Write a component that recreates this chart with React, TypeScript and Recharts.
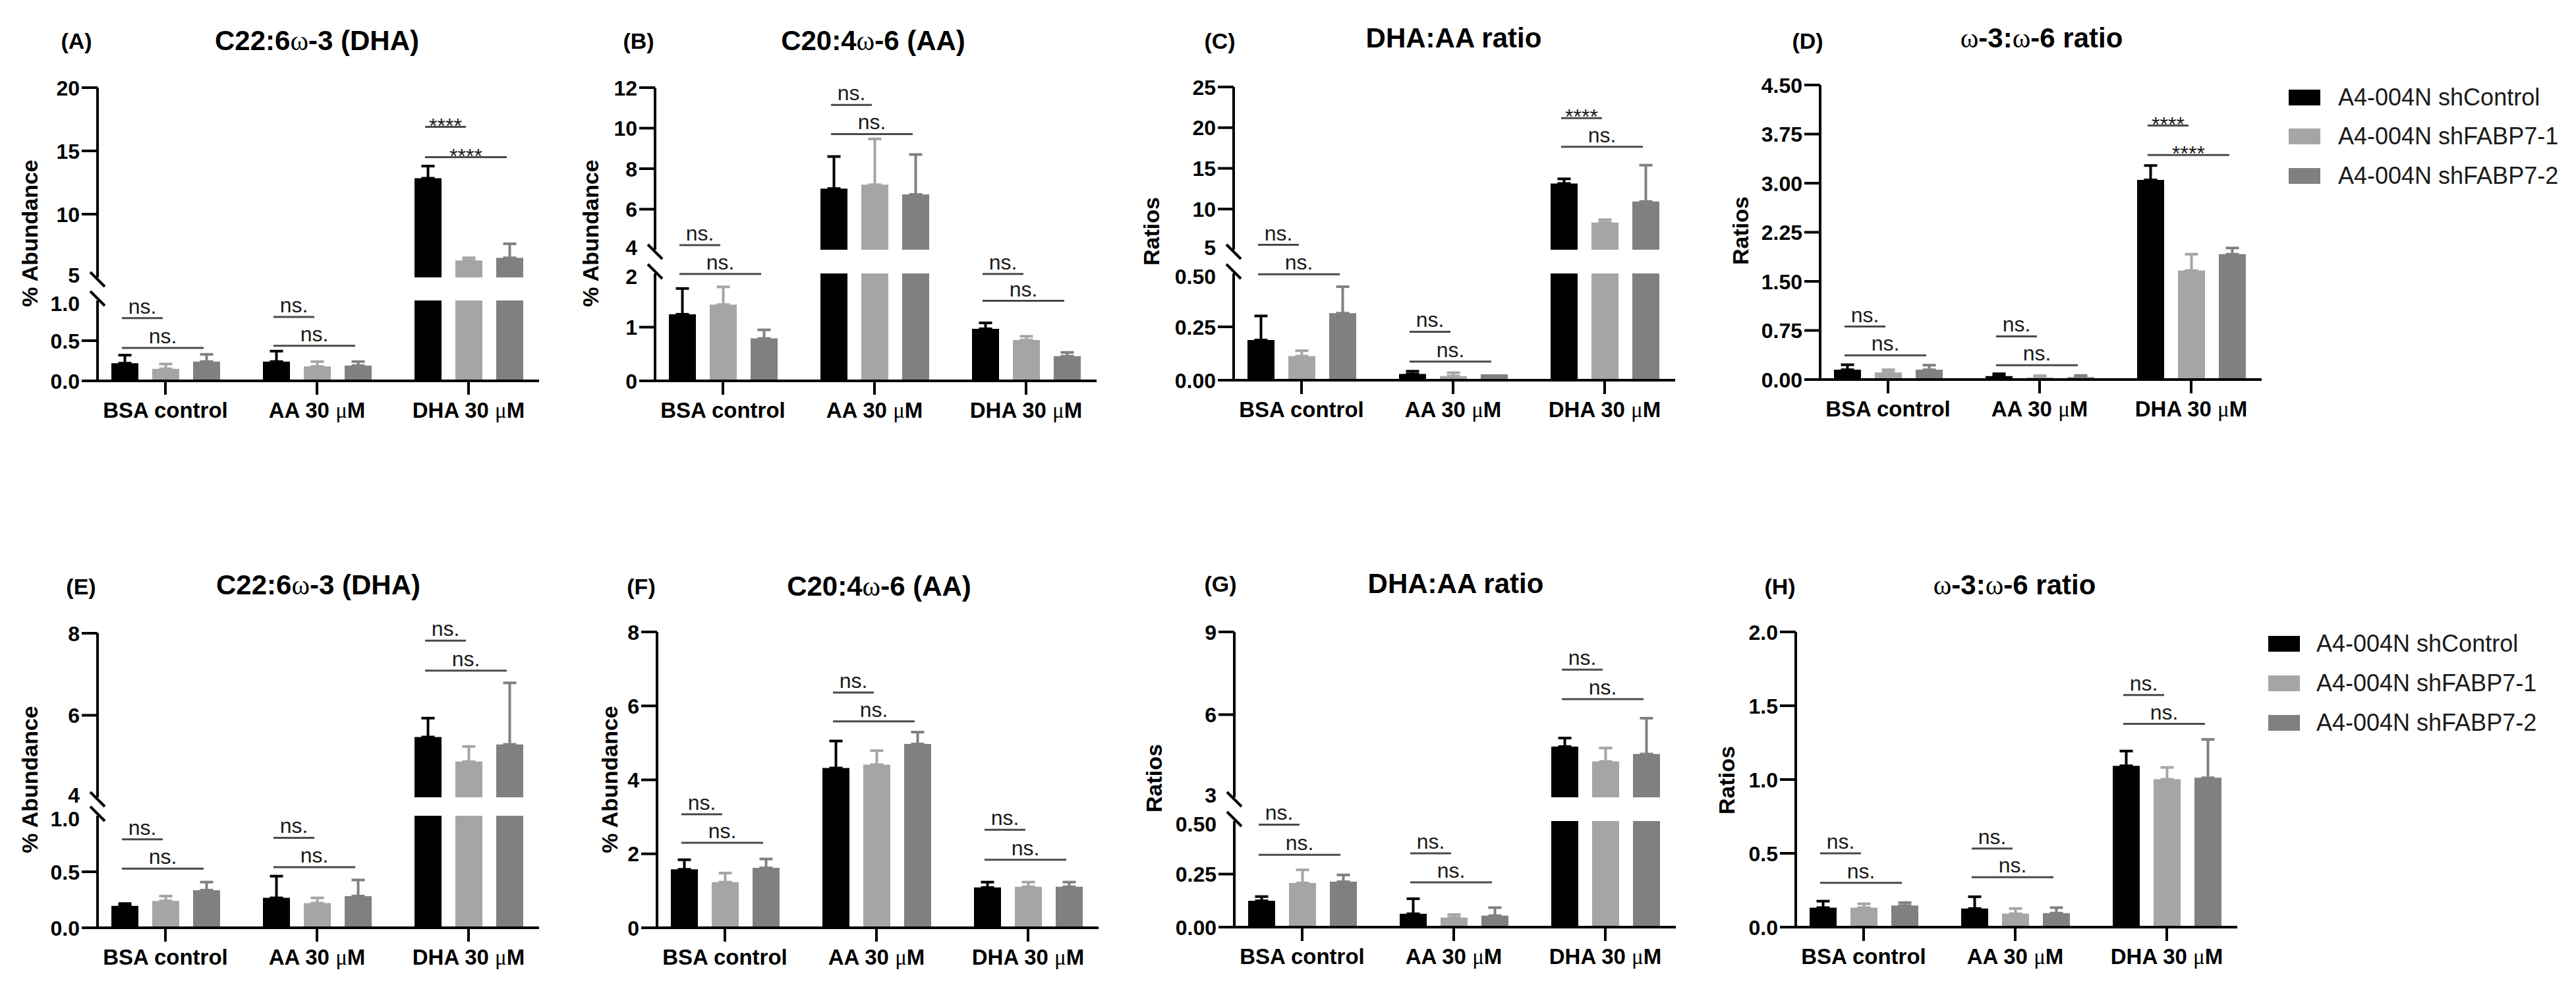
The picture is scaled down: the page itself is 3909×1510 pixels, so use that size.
import React from 'react';
import { BarChart, Bar, XAxis, YAxis, ErrorBar, ReferenceLine } from 'recharts';

// ---------- shared data ----------
const categories = ['BSA control', 'AA 30 μM', 'DHA 30 μM'];
const seriesNames = ['A4-004N shControl', 'A4-004N shFABP7-1', 'A4-004N shFABP7-2'];
const seriesColors = ['#000000', '#a5a5a8', '#808080'];

// ---------- Panel A : C22:6w-3 (DHA), % abundance ----------
const aShControl = [0.22, 0.24, 12.84];
const aShFABP7_1 = [0.15, 0.18, 6.34];
const aShFABP7_2 = [0.24, 0.19, 6.55];
const aShControlSd = [0.1, 0.13, 0.96];
const aShFABP7_1Sd = [0.06, 0.06, 0.21];
const aShFABP7_2Sd = [0.09, 0.05, 1.11];
const aSigNearY = [0.78, 0.795, 16.9];
const aSigFarY = [0.41, 0.437, 14.5];
const aSigNear = ['ns.', 'ns.', '****'];
const aSigFar = ['ns.', 'ns.', '****'];
const aTicksUpper = [5, 10, 15, 20];
const aTicksLower = [0, 0.5, 1];

// ---------- Panel B : C20:4w-6 (AA), % abundance ----------
const bShControl = [1.24, 7.02, 0.97];
const bShFABP7_1 = [1.42, 7.21, 0.76];
const bShFABP7_2 = [0.79, 6.73, 0.46];
const bShControlSd = [0.48, 1.58, 0.11];
const bShFABP7_1Sd = [0.33, 2.26, 0.07];
const bShFABP7_2Sd = [0.16, 1.97, 0.07];
const bSigNearY = [4.23, 11.15, 1.99];
const bSigFarY = [1.99, 9.71, 1.49];
const bSigNear = ['ns.', 'ns.', 'ns.'];
const bSigFar = ['ns.', 'ns.', 'ns.'];
const bTicksUpper = [4, 6, 8, 10, 12];
const bTicksLower = [0, 1, 2];

// ---------- Panel C : DHA:AA ratio ----------
const cShControl = [0.188, 0.029, 13.14];
const cShFABP7_1 = [0.113, 0.019, 8.35];
const cShFABP7_2 = [0.314, 0.028, 10.93];
const cShControlSd = [0.113, 0.013, 0.57];
const cShFABP7_1Sd = [0.025, 0.016, 0.34];
const cShFABP7_2Sd = [0.124, 0, 4.46];
const cSigNearY = [5.6, 0.227, 21.18];
const cSigFarY = [0.496, 0.087, 17.66];
const cSigNear = ['ns.', 'ns.', '****'];
const cSigFar = ['ns.', 'ns.', 'ns.'];
const cTicksUpper = [5, 10, 15, 20, 25];
const cTicksLower = [0, 0.25, 0.5];

// ---------- Panel D : w-3:w-6 ratio ----------
const dShControl = [0.15, 0.054, 3.05];
const dShFABP7_1 = [0.109, 0.033, 1.665];
const dShFABP7_2 = [0.15, 0.038, 1.915];
const dShControlSd = [0.076, 0.034, 0.22];
const dShFABP7_1Sd = [0.041, 0.026, 0.25];
const dShFABP7_2Sd = [0.07, 0.025, 0.095];
const dSigNearY = [0.81, 0.66, 3.88];
const dSigFarY = [0.37, 0.22, 3.43];
const dSigNear = ['ns.', 'ns.', '****'];
const dSigFar = ['ns.', 'ns.', '****'];
const dTicks = [0, 0.75, 1.5, 2.25, 3, 3.75, 4.5];

// ---------- Panel E : C22:6w-3 (DHA), % abundance ----------
const eShControl = [0.195, 0.267, 5.47];
const eShFABP7_1 = [0.24, 0.221, 4.87];
const eShFABP7_2 = [0.336, 0.283, 5.29];
const eShControlSd = [0.021, 0.194, 0.46];
const eShFABP7_1Sd = [0.043, 0.046, 0.37];
const eShFABP7_2Sd = [0.072, 0.144, 1.5];
const eSigNearY = [0.789, 0.803, 7.82];
const eSigFarY = [0.528, 0.541, 7.09];
const eSigNear = ['ns.', 'ns.', 'ns.'];
const eSigFar = ['ns.', 'ns.', 'ns.'];
const eTicksUpper = [4, 6, 8];
const eTicksLower = [0, 0.5, 1];

// ---------- Panel F : C20:4w-6 (AA), % abundance ----------
const fShControl = [1.58, 4.32, 1.09];
const fShFABP7_1 = [1.235, 4.41, 1.11];
const fShFABP7_2 = [1.62, 4.97, 1.11];
const fShControlSd = [0.26, 0.73, 0.145];
const fShFABP7_1Sd = [0.245, 0.38, 0.125];
const fShFABP7_2Sd = [0.24, 0.32, 0.125];
const fSigNearY = [3.07, 6.36, 2.65];
const fSigFarY = [2.3, 5.58, 1.84];
const fSigNear = ['ns.', 'ns.', 'ns.'];
const fSigFar = ['ns.', 'ns.', 'ns.'];
const fTicks = [0, 2, 4, 6, 8];

// ---------- Panel G : DHA:AA ratio ----------
const gShControl = [0.124, 0.063, 4.84];
const gShFABP7_1 = [0.208, 0.045, 4.3];
const gShFABP7_2 = [0.214, 0.054, 4.57];
const gShControlSd = [0.02, 0.071, 0.31];
const gShFABP7_1Sd = [0.062, 0.014, 0.49];
const gShFABP7_2Sd = [0.032, 0.038, 1.3];
const gSigNearY = [0.483, 0.348, 7.63];
const gSigFarY = [0.341, 0.211, 6.56];
const gSigNear = ['ns.', 'ns.', 'ns.'];
const gSigFar = ['ns.', 'ns.', 'ns.'];
const gTicksUpper = [3, 6, 9];
const gTicksLower = [0, 0.25, 0.5];

// ---------- Panel H : w-3:w-6 ratio ----------
const hShControl = [0.132, 0.126, 1.093];
const hShFABP7_1 = [0.132, 0.091, 1.002];
const hShFABP7_2 = [0.146, 0.095, 1.012];
const hShControlSd = [0.044, 0.08, 0.1];
const hShFABP7_1Sd = [0.026, 0.035, 0.08];
const hShFABP7_2Sd = [0.02, 0.037, 0.26];
const hSigNearY = [0.5, 0.532, 1.573];
const hSigFarY = [0.3, 0.338, 1.377];
const hSigNear = ['ns.', 'ns.', 'ns.'];
const hSigFar = ['ns.', 'ns.', 'ns.'];
const hTicks = [0, 0.5, 1, 1.5, 2];

// ---------- styling / layout ----------
const FONT = '"Liberation Sans", Arial, Helvetica, sans-serif';
const SERIF = '"Liberation Serif", "DejaVu Serif", serif';
const PLOT_W = 670;
const LEFT_SPACE = 110;
const RIGHT_SPACE = 30;
const MT = 70;
const UPPER_MB = 34;
const XAXIS_H = 90;
const BAR_SIZE = 41;
const BAR_GAP = 21;
const BAND = 230;
const PAD_L = -12;
const PAD_R = -8;
const PITCH_U = (BAR_SIZE + BAR_GAP) / BAND;
const SHIFT_U = -4 / BAND;
const AXIS_W = 4;
const SIG_COLOR = '#4a4a4a';

type Seg = { domain: [number, number]; ticks: number[]; digits: number; top: number; bottom: number };
type PanelDef = {
  key: string;
  letter: string;
  title: React.ReactNode;
  yLabel: string;
  means: number[][];
  sds: number[][];
  nearY: number[];
  farY: number[];
  nearLab: string[];
  farLab: string[];
  segs: Seg[];
  axisX: number;
  letterPos: [number, number];
  titlePos: [number, number];
  yLabelPos: [number, number];
};

const W = () => <span style={{ fontFamily: SERIF, fontWeight: 'normal' }}>ω</span>;

const panels: PanelDef[] = [
  {
    key: 'A', letter: '(A)', title: <>C22:6<W />-3 (DHA)</>, yLabel: '% Abundance',
    means: [aShControl, aShFABP7_1, aShFABP7_2], sds: [aShControlSd, aShFABP7_1Sd, aShFABP7_2Sd],
    nearY: aSigNearY, farY: aSigFarY, nearLab: aSigNear, farLab: aSigFar,
    segs: [
      { domain: [5, 20], ticks: aTicksUpper, digits: 0, top: 133, bottom: 421 },
      { domain: [0, 1], ticks: aTicksLower, digits: 1, top: 456, bottom: 578 },
    ],
    axisX: 148, letterPos: [116, 62], titlePos: [481, 62], yLabelPos: [45, 354],
  },
  {
    key: 'B', letter: '(B)', title: <>C20:4<W />-6 (AA)</>, yLabel: '% Abundance',
    means: [bShControl, bShFABP7_1, bShFABP7_2], sds: [bShControlSd, bShFABP7_1Sd, bShFABP7_2Sd],
    nearY: bSigNearY, farY: bSigFarY, nearLab: bSigNear, farLab: bSigFar,
    segs: [
      { domain: [4, 12], ticks: bTicksUpper, digits: 0, top: 133, bottom: 379 },
      { domain: [0, 2], ticks: bTicksLower, digits: 0, top: 415, bottom: 578 },
    ],
    axisX: 994, letterPos: [969, 62], titlePos: [1325, 62], yLabelPos: [896, 354],
  },
  {
    key: 'C', letter: '(C)', title: 'DHA:AA ratio', yLabel: 'Ratios',
    means: [cShControl, cShFABP7_1, cShFABP7_2], sds: [cShControlSd, cShFABP7_1Sd, cShFABP7_2Sd],
    nearY: cSigNearY, farY: cSigFarY, nearLab: cSigNear, farLab: cSigFar,
    segs: [
      { domain: [5, 25], ticks: cTicksUpper, digits: 0, top: 132, bottom: 379 },
      { domain: [0, 0.5], ticks: cTicksLower, digits: 2, top: 415, bottom: 577 },
    ],
    axisX: 1872, letterPos: [1851, 62], titlePos: [2206, 58], yLabelPos: [1747, 351],
  },
  {
    key: 'D', letter: '(D)', title: <><W />-3:<W />-6 ratio</>, yLabel: 'Ratios',
    means: [dShControl, dShFABP7_1, dShFABP7_2], sds: [dShControlSd, dShFABP7_1Sd, dShFABP7_2Sd],
    nearY: dSigNearY, farY: dSigFarY, nearLab: dSigNear, farLab: dSigFar,
    segs: [{ domain: [0, 4.5], ticks: dTicks, digits: 2, top: 129, bottom: 576 }],
    axisX: 2762, letterPos: [2743, 62], titlePos: [3098, 58], yLabelPos: [2641, 350],
  },
  {
    key: 'E', letter: '(E)', title: <>C22:6<W />-3 (DHA)</>, yLabel: '% Abundance',
    means: [eShControl, eShFABP7_1, eShFABP7_2], sds: [eShControlSd, eShFABP7_1Sd, eShFABP7_2Sd],
    nearY: eSigNearY, farY: eSigFarY, nearLab: eSigNear, farLab: eSigFar,
    segs: [
      { domain: [4, 8], ticks: eTicksUpper, digits: 0, top: 961, bottom: 1210 },
      { domain: [0, 1], ticks: eTicksLower, digits: 1, top: 1238, bottom: 1408 },
    ],
    axisX: 148, letterPos: [123, 890], titlePos: [483, 888], yLabelPos: [45, 1183],
  },
  {
    key: 'F', letter: '(F)', title: <>C20:4<W />-6 (AA)</>, yLabel: '% Abundance',
    means: [fShControl, fShFABP7_1, fShFABP7_2], sds: [fShControlSd, fShFABP7_1Sd, fShFABP7_2Sd],
    nearY: fSigNearY, farY: fSigFarY, nearLab: fSigNear, farLab: fSigFar,
    segs: [{ domain: [0, 8], ticks: fTicks, digits: 0, top: 959, bottom: 1408 }],
    axisX: 997, letterPos: [973, 890], titlePos: [1334, 890], yLabelPos: [925, 1183],
  },
  {
    key: 'G', letter: '(G)', title: 'DHA:AA ratio', yLabel: 'Ratios',
    means: [gShControl, gShFABP7_1, gShFABP7_2], sds: [gShControlSd, gShFABP7_1Sd, gShFABP7_2Sd],
    nearY: gSigNearY, farY: gSigFarY, nearLab: gSigNear, farLab: gSigFar,
    segs: [
      { domain: [3, 9], ticks: gTicksUpper, digits: 0, top: 959, bottom: 1210 },
      { domain: [0, 0.5], ticks: gTicksLower, digits: 2, top: 1246, bottom: 1407 },
    ],
    axisX: 1873, letterPos: [1852, 886], titlePos: [2209, 886], yLabelPos: [1751, 1181],
  },
  {
    key: 'H', letter: '(H)', title: <><W />-3:<W />-6 ratio</>, yLabel: 'Ratios',
    means: [hShControl, hShFABP7_1, hShFABP7_2], sds: [hShControlSd, hShFABP7_1Sd, hShFABP7_2Sd],
    nearY: hSigNearY, farY: hSigFarY, nearLab: hSigNear, farLab: hSigFar,
    segs: [{ domain: [0, 2], ticks: hTicks, digits: 1, top: 959, bottom: 1407 }],
    axisX: 2725, letterPos: [2701, 890], titlePos: [3057, 888], yLabelPos: [2620, 1184],
  },
];

const legends = [
  { swatchX: 3473, textX: 3548, rows: [148, 207, 267] },
  { swatchX: 3442, textX: 3515, rows: [977, 1037, 1097] },
];

// ---------- tick renderers ----------
function YTick(props: any) {
  const { x, y, payload, digits, breakAt, breakDir } = props;
  const tickLen = 24;
  const ax = x + 3 + tickLen;
  const v = payload.value as number;
  const isBreak = breakAt !== undefined && Math.abs(v - breakAt) < 1e-9;
  const cy = y + (isBreak ? breakDir * 3 : 0);
  // break labels are nudged away from the gap so the two labels do not collide
  const ly = y + (isBreak ? -breakDir * 4 : 0);
  return (
    <g>
      {isBreak ? (
        <line x1={ax - 11} y1={cy - 11} x2={ax + 11} y2={cy + 11} stroke="#000" strokeWidth={4} />
      ) : (
        <line x1={ax - tickLen} y1={y} x2={ax} y2={y} stroke="#000" strokeWidth={AXIS_W} />
      )}
      <text x={x} y={ly} dy="0.36em" textAnchor="end" fontSize={32} fontWeight="bold" fontFamily={FONT} fill="#000">
        {v.toFixed(digits)}
      </text>
    </g>
  );
}

function XTick(props: any) {
  const { x, y, payload } = props;
  const label = String(payload.value);
  const parts = label.split('μ');
  return (
    <text x={x} y={y} dy="0.82em" textAnchor="middle" fontSize={33} fontWeight="bold" fontFamily={FONT} fill="#000">
      {parts.length > 1 ? (
        <>
          {parts[0]}
          <tspan fontFamily={SERIF} fontWeight="normal">μ</tspan>
          {parts[1]}
        </>
      ) : (
        label
      )}
    </text>
  );
}

// ---------- one axis segment of a panel ----------
function SegmentChart({ p, segIdx }: { p: PanelDef; segIdx: number }) {
  const seg = p.segs[segIdx];
  const isLowest = segIdx === p.segs.length - 1;
  const [lo, hi] = seg.domain;
  const breakAt = p.segs.length > 1 ? (segIdx === 0 ? lo : hi) : undefined;
  const breakDir = segIdx === 0 ? 1 : -1;
  const bottomMargin = isLowest ? 0 : UPPER_MB;
  const plotH = seg.bottom - seg.top;
  const height = MT + plotH + (isLowest ? XAXIS_H : bottomMargin);
  const width = LEFT_SPACE + PLOT_W + RIGHT_SPACE;

  const rows = categories.map((name, i) => {
    const row: Record<string, unknown> = { name, pos: i + 0.5 };
    p.means.forEach((arr, j) => {
      const v = arr[i];
      const sd = p.sds[j][i];
      let shown = v;
      let err: number[] | null = null;
      if (v < lo) shown = lo;
      else if (v > hi) shown = hi;
      else if (sd > 0) err = [0, sd];
      row['s' + j] = shown;
      row['e' + j] = err;
    });
    return row;
  });

  const segFor = (y: number) => p.segs.findIndex((s) => y >= s.domain[0]);
  const brackets: { key: string; y: number; lab: string; x1: number; x2: number }[] = [];
  categories.forEach((_, i) => {
    const pairs: [number, string, number][] = [
      [p.nearY[i], p.nearLab[i], 1],
      [p.farY[i], p.farLab[i], 2],
    ];
    pairs.forEach(([y, lab, j]) => {
      if (segFor(y) !== segIdx) return;
      const c = i + 0.5 + SHIFT_U;
      brackets.push({ key: `${i}-${j}`, y, lab, x1: c - PITCH_U, x2: c + (j - 1) * PITCH_U });
    });
  });

  return (
    <div style={{ position: 'absolute', left: p.axisX - LEFT_SPACE, top: seg.top - MT }}>
      <BarChart
        width={width}
        height={height}
        data={rows}
        margin={{ top: MT, right: RIGHT_SPACE, bottom: bottomMargin, left: 0 }}
        barSize={BAR_SIZE}
        barGap={BAR_GAP}
      >
        <XAxis
          xAxisId="cat"
          dataKey="name"
          type="category"
          hide={!isLowest}
          padding={{ left: PAD_L, right: PAD_R }}
          height={XAXIS_H}
          tickSize={21}
          tickMargin={8}
          interval={0}
          tick={(tp: any) => <XTick {...tp} />}
          tickLine={{ stroke: '#000', strokeWidth: AXIS_W }}
          axisLine={{ stroke: '#000', strokeWidth: AXIS_W }}
        />
        <XAxis
          xAxisId="n"
          dataKey="pos"
          type="number"
          domain={[0, 3]}
          allowDataOverflow
          hide
          padding={{ left: PAD_L, right: PAD_R }}
        />
        <YAxis
          yAxisId="y"
          type="number"
          domain={seg.domain}
          allowDataOverflow
          ticks={seg.ticks}
          interval={0}
          width={LEFT_SPACE}
          tickSize={24}
          tickMargin={3}
          tickLine={false}
          axisLine={{ stroke: '#000', strokeWidth: AXIS_W }}
          tick={(tp: any) => <YTick {...tp} digits={seg.digits} breakAt={breakAt} breakDir={breakDir} />}
        />
        {[0, 1, 2].map((j) => (
          <Bar
            key={j}
            xAxisId="cat"
            yAxisId="y"
            dataKey={'s' + j}
            name={seriesNames[j]}
            fill={seriesColors[j]}
            isAnimationActive={false}
          >
            <ErrorBar dataKey={'e' + j} direction="y" width={10} stroke={seriesColors[j]} strokeWidth={4} />
          </Bar>
        ))}
        {brackets.map((b) => (
          <ReferenceLine
            key={b.key}
            xAxisId="n"
            yAxisId="y"
            ifOverflow="visible"
            segment={[
              { x: b.x1, y: b.y },
              { x: b.x2, y: b.y },
            ]}
            stroke={SIG_COLOR}
            strokeWidth={3}
            label={{
              value: b.lab,
              position: 'top',
              offset: b.lab === 'ns.' ? 7 : -9,
              fill: '#1a1a1a',
              fontSize: 32,
              fontFamily: FONT,
            }}
          />
        ))}
      </BarChart>
    </div>
  );
}

function Panel({ p }: { p: PanelDef }) {
  const centered = (x: number, y: number, extra: React.CSSProperties = {}): React.CSSProperties => ({
    position: 'absolute',
    left: x,
    top: y,
    transform: 'translate(-50%, -50%)',
    whiteSpace: 'nowrap',
    fontFamily: FONT,
    fontWeight: 'bold',
    lineHeight: 1,
    color: '#000',
    ...extra,
  });
  return (
    <>
      <div style={centered(p.letterPos[0], p.letterPos[1], { fontSize: 34 })}>{p.letter}</div>
      <div style={centered(p.titlePos[0], p.titlePos[1], { fontSize: 42 })}>{p.title}</div>
      <div style={centered(p.yLabelPos[0], p.yLabelPos[1], { fontSize: 34, transform: 'translate(-50%, -50%) rotate(-90deg)' })}>
        {p.yLabel}
      </div>
      {p.segs.map((_, i) => (
        <SegmentChart key={i} p={p} segIdx={i} />
      ))}
    </>
  );
}

export default function App() {
  return (
    <div style={{ position: 'absolute', left: 0, top: 0, width: 3909, height: 1510, background: '#fff', overflow: 'hidden' }}>
      {panels.map((p) => (
        <Panel key={p.key} p={p} />
      ))}
      {legends.map((lg, li) => (
        <React.Fragment key={li}>
          {seriesNames.map((name, j) => (
            <React.Fragment key={j}>
              <div
                style={{
                  position: 'absolute',
                  left: lg.swatchX,
                  top: lg.rows[j] - 12,
                  width: 48,
                  height: 24,
                  background: seriesColors[j],
                }}
              />
              <div
                style={{
                  position: 'absolute',
                  left: lg.textX,
                  top: lg.rows[j],
                  transform: 'translateY(-50%)',
                  fontFamily: FONT,
                  fontSize: 36,
                  lineHeight: 1,
                  whiteSpace: 'nowrap',
                  color: '#1a1a1a',
                }}
              >
                {name}
              </div>
            </React.Fragment>
          ))}
        </React.Fragment>
      ))}
    </div>
  );
}
